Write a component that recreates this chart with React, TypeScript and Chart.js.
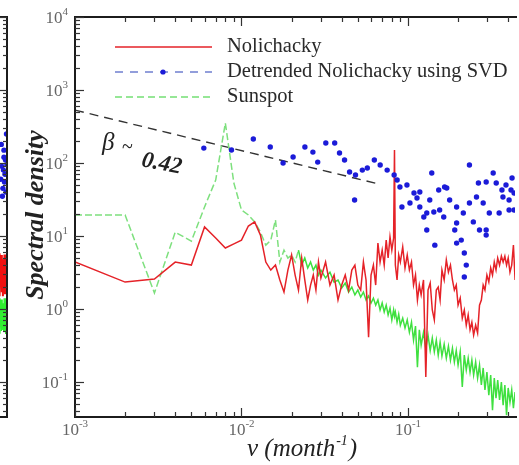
import React, { useEffect, useRef } from 'react';
import { Chart, registerables } from 'chart.js';

Chart.register(...registerables);

const SERIF = '"Liberation Serif", "Times New Roman", serif';

// ---- data: frequency grid (month^-1) shared by the two spectra ----
const nuFreq = [
  0.001, 0.002, 0.003, 0.004, 0.005, 0.006, 0.007, 0.008, 0.009, 0.010,
  0.011, 0.012, 0.013, 0.014, 0.015, 0.016, 0.017, 0.018, 0.019, 0.020,
  0.021, 0.022, 0.023, 0.024, 0.025, 0.026, 0.027, 0.028, 0.029, 0.030,
  0.032, 0.034, 0.036, 0.038, 0.040, 0.042, 0.044, 0.046, 0.048, 0.050,
  0.052, 0.054, 0.056, 0.058, 0.060, 0.062, 0.064, 0.066, 0.068, 0.070,
  0.072, 0.074, 0.076, 0.078, 0.080, 0.082,
  0.083, 0.084,
  0.086, 0.088, 0.090,
  0.093, 0.096, 0.099, 0.102, 0.105, 0.108, 0.111, 0.114, 0.117, 0.120,
  0.124, 0.128, 0.132, 0.136, 0.140, 0.144, 0.148, 0.152, 0.156, 0.160,
  0.165, 0.170, 0.175, 0.180, 0.185, 0.190, 0.195, 0.200,
  0.206, 0.212, 0.218, 0.224, 0.230, 0.236, 0.242, 0.248,
  0.255, 0.262, 0.269, 0.276, 0.283, 0.290,
  0.298, 0.306, 0.314, 0.322, 0.330, 0.338, 0.346,
  0.355, 0.364, 0.373, 0.382, 0.391, 0.400,
  0.410, 0.420, 0.430, 0.440, 0.450,
];

const nolichackyValues = [
  4.4, 2.34, 2.58, 4.4, 4.0, 13.3, 9.4, 6.85, 7.8, 8.8,
  13.7, 15.6, 10.3, 4.4, 3.42, 4.0, 2.5, 1.71, 3.42, 5.5,
  2.92, 1.82, 5.0, 2.5, 1.33, 2.13, 2.92, 1.82, 4.4, 2.66,
  4.4, 2.13, 2.92, 1.33, 2.13, 2.92, 1.82, 3.42, 4.0, 2.13,
  1.82, 4.4, 2.5, 0.41, 2.92, 4.0, 2.13, 8.0, 4.4, 6.4,
  4.0, 8.8, 5.0, 9.7, 6.4, 9.4,
  151, 4.0,
  2.5, 5.5, 4.4,
  7.1, 3.65, 5.5, 3.42, 4.4, 2.13, 2.92, 1.33, 2.13, 1.56,
  2.5, 0.117, 1.82, 2.27, 0.97, 0.71, 1.82, 2.0, 1.33, 3.42,
  2.5, 4.7, 3.2, 4.0, 2.5, 1.82, 2.13, 1.13,
  1.41, 0.75, 0.97, 0.60, 0.83, 0.52, 0.66, 0.44,
  0.60, 0.47, 1.13, 1.33, 2.13, 1.82,
  2.92, 2.34, 3.65, 2.92, 4.4, 3.42, 5.0,
  4.0, 5.3, 4.4, 5.3, 4.0, 5.0,
  3.2, 4.0, 7.5, 2.5, 3.42,
];

const sunspotValues = [
  19.4, 19.4, 1.66, 11.3, 8.5, 25, 58.5, 353, 53.2, 22.7,
  19.4, 15.6, 11.3, 7.5, 8.8, 16.6, 4.4, 6.4, 5.0, 5.5,
  4.4, 6.4, 4.0, 5.0, 3.65, 4.4, 3.42, 4.0, 2.92, 3.42,
  2.66, 3.2, 2.34, 2.5, 1.94, 2.27, 1.71, 2.0, 1.56, 1.82,
  1.46, 1.71, 1.33, 1.51, 1.21, 1.41, 1.13, 1.33, 0.97, 1.21,
  0.91, 1.13, 0.83, 1.03, 0.71, 0.97,
  0.80, 0.91,
  0.66, 0.85, 0.60,
  0.75, 0.55, 0.71, 0.48, 0.66, 0.376, 0.585, 0.160, 0.52, 0.32,
  0.48, 0.29, 0.44, 0.27, 0.40, 0.26, 0.376, 0.234, 0.353, 0.227,
  0.33, 0.213, 0.31, 0.20, 0.29, 0.188, 0.27, 0.171,
  0.26, 0.0855, 0.234, 0.146, 0.213, 0.137, 0.20, 0.125,
  0.188, 0.1135, 0.171, 0.091, 0.156, 0.078,
  0.137, 0.066, 0.125, 0.041, 0.1135, 0.060, 0.106,
  0.057, 0.10, 0.048, 0.091, 0.035, 0.083,
  0.053, 0.078, 0.044, 0.073, 0.057,
];

// detrended Nolichacky (SVD) – scatter points
const svdFreq = [
  0.00594, 0.00871, 0.01178, 0.01489, 0.01778, 0.02042, 0.02404, 0.02685, 0.0287, 0.0321,
  0.0363, 0.0388, 0.0416, 0.0446, 0.0484, 0.0532, 0.0570, 0.0478, 0.0628, 0.0681,
  0.0750, 0.0826, 0.0895, 0.0986, 0.1087, 0.1178, 0.139, 0.0920, 0.1028, 0.1178,
  0.1352, 0.153, 0.166, 0.1297, 0.143, 0.155, 0.178, 0.196, 0.215, 0.234,
  0.234, 0.265, 0.295, 0.325, 0.339, 0.372, 0.405, 0.434, 0.258, 0.283,
  0.308, 0.1297, 0.196, 0.247, 0.295, 0.1245, 0.145, 0.196, 0.209, 0.218,
  0.224, 0.218, 0.164, 0.171, 0.191, 0.269, 0.295, 0.353, 0.405, 0.388,
  0.416, 0.434, 0.367, 0.422, 0.0861, 0.1133,
];
const svdValues = [
  160, 151, 213, 166, 100, 121, 166, 141, 103, 188,
  188, 137, 110, 75.3, 68.5, 80, 85.5, 31.1, 110, 94,
  80, 68.5, 46.9, 50, 38.8, 40.1, 73, 25.0, 28.3, 25.0,
  31.1, 42.7, 46.9, 20.7, 21.3, 22.7, 31.1, 25.0, 20.7, 28.3,
  94, 53.2, 55, 73, 53.2, 34.2, 31.1, 38.8, 34.2, 28.3,
  20.7, 12.1, 15.1, 15.6, 12.1, 18.2, 7.5, 8.0, 8.8, 5.85,
  4.0, 2.74, 18.2, 45.5, 12.1, 12.1, 10.3, 20.7, 22.7, 50,
  42.7, 22.7, 42.7, 62.3, 58.5, 33.2,
];

// fitted power-law guide (beta ~ 0.42)
const betaFreq = [0.001, 0.0637];
const betaValues = [530, 53];

// neighbouring panel (cut off on the left)
const leftFreq = [0.41, 0.415, 0.42, 0.425, 0.43, 0.435, 0.44, 0.445, 0.45, 0.455, 0.46, 0.465, 0.47, 0.475, 0.48, 0.485, 0.49, 0.495, 0.5];
const leftRed = [1.6, 5.2, 1.8, 5.8, 1.5, 4.6, 2.2, 5.5, 1.7, 4.8, 1.5, 4.2, 2.0, 5.6, 1.6, 3.8, 2.4, 5.0, 1.8];
const leftGreen = [0.5, 1.3, 0.55, 1.4, 0.46, 1.1, 0.6, 1.35, 0.5, 1.0, 0.65, 1.2, 0.5, 1.4, 0.55, 1.05, 0.47, 1.25, 0.6];
const leftBlueFreq = [0.44, 0.45, 0.46, 0.47, 0.48, 0.49, 0.495, 0.485, 0.475, 0.465, 0.455, 0.445, 0.5, 0.47];
const leftBlueValues = [60, 90, 45, 150, 70, 40, 250, 110, 55, 80, 35, 180, 95, 120];

// ---- text ----
const legendLabels = ['Nolichacky', 'Detrended Nolichacky using SVD', 'Sunspot'];
const xTickExponents = [-3, -2, -1];
const yTickExponents = [4, 3, 2, 1, 0, -1];
const yTitle = 'Spectral density';
const betaText = { symbol: 'β', tilde: '~', value: '0.42' };

const X_MIN = 0.001;
const X_MAX = 0.4395;
const Y_MIN = 0.0332;
const Y_MAX = 10000;

const RED = '#e52228';
const GREEN = '#3fe03f';
const BLUE = '#1b1bd8';

function logTicks(min: number, max: number) {
  const out: { v: number; major: boolean }[] = [];
  for (let e = Math.floor(Math.log10(min)); e <= Math.ceil(Math.log10(max)); e++) {
    for (let m = 1; m <= 9; m++) {
      const v = m * Math.pow(10, e);
      if (v >= min * 0.999 && v <= max * 1.001) out.push({ v, major: m === 1 });
    }
  }
  return out;
}

const mainDecor = {
  id: 'mainDecor',
  afterDraw(chart: any) {
    const { ctx, chartArea: a, scales } = chart;
    const xs = scales.x;
    const ys = scales.y;
    ctx.save();
    // frame
    ctx.strokeStyle = '#1c1c1c';
    ctx.lineWidth = 2;
    ctx.beginPath();
    ctx.moveTo(a.right + 2, a.top);
    ctx.lineTo(a.left, a.top);
    ctx.lineTo(a.left, a.bottom);
    ctx.lineTo(a.right + 2, a.bottom);
    ctx.stroke();
    // ticks (inward)
    ctx.lineWidth = 1.2;
    ctx.strokeStyle = '#333';
    for (const t of logTicks(X_MIN, X_MAX)) {
      const px = Math.round(xs.getPixelForValue(t.v)) + 0.5;
      const len = t.major ? 9 : 5;
      ctx.beginPath();
      ctx.moveTo(px, a.bottom);
      ctx.lineTo(px, a.bottom - len);
      ctx.moveTo(px, a.top);
      ctx.lineTo(px, a.top + len);
      ctx.stroke();
    }
    for (const t of logTicks(Y_MIN, Y_MAX)) {
      const py = Math.round(ys.getPixelForValue(t.v)) + 0.5;
      const len = t.major ? 9 : 5;
      ctx.beginPath();
      ctx.moveTo(a.left, py);
      ctx.lineTo(a.left + len, py);
      ctx.stroke();
    }
    // tick labels
    ctx.fillStyle = '#666';
    ctx.textBaseline = 'alphabetic';
    ctx.textAlign = 'left';
    const big = `17px ${SERIF}`;
    const small = `11px ${SERIF}`;
    for (const e of xTickExponents) {
      const px = xs.getPixelForValue(Math.pow(10, e));
      ctx.font = big;
      const w1 = ctx.measureText('10').width;
      ctx.font = small;
      const w2 = ctx.measureText(String(e)).width;
      const start = px - (w1 + w2) / 2;
      ctx.font = big;
      ctx.fillText('10', start, a.bottom + 18);
      ctx.font = small;
      ctx.fillText(String(e), start + w1, a.bottom + 10);
    }
    for (const e of yTickExponents) {
      const py = ys.getPixelForValue(Math.pow(10, e));
      ctx.font = big;
      const w1 = ctx.measureText('10').width;
      ctx.font = small;
      const w2 = ctx.measureText(String(e)).width;
      const start = 68 - (w1 + w2);
      ctx.font = big;
      ctx.fillText('10', start, py + 6);
      ctx.font = small;
      ctx.fillText(String(e), start + w1, py - 2);
    }
    // y title
    ctx.fillStyle = '#222';
    ctx.save();
    ctx.translate(36, 215);
    ctx.rotate(-Math.PI / 2);
    ctx.font = `italic bold 26px ${SERIF}`;
    ctx.textAlign = 'center';
    ctx.textBaseline = 'middle';
    ctx.fillText(yTitle, 0, 0);
    ctx.restore();
    // x title: ν (month^-1)
    {
      let cx = 247;
      const base = 456;
      ctx.font = `italic 25px ${SERIF}`;
      ctx.fillText('ν', cx, base);
      cx += ctx.measureText('ν').width;
      ctx.fillText(' (month', cx, base);
      cx += ctx.measureText(' (month').width + 1;
      ctx.font = `italic 14px ${SERIF}`;
      ctx.fillText('-1', cx, base - 11);
      cx += ctx.measureText('-1').width + 1;
      ctx.font = `italic 25px ${SERIF}`;
      ctx.fillText(')', cx, base);
    }
    // legend
    const rows = [47, 72, 97];
    ctx.lineWidth = 1.6;
    ctx.strokeStyle = RED;
    ctx.setLineDash([]);
    ctx.beginPath();
    ctx.moveTo(115, rows[0]);
    ctx.lineTo(212, rows[0]);
    ctx.stroke();
    ctx.strokeStyle = '#6f7fd0';
    ctx.setLineDash([8, 7]);
    ctx.beginPath();
    ctx.moveTo(115, rows[1]);
    ctx.lineTo(212, rows[1]);
    ctx.stroke();
    ctx.setLineDash([]);
    ctx.fillStyle = BLUE;
    ctx.beginPath();
    ctx.arc(163, rows[1], 2.6, 0, Math.PI * 2);
    ctx.fill();
    ctx.strokeStyle = '#74e074';
    ctx.setLineDash([7, 4]);
    ctx.beginPath();
    ctx.moveTo(115, rows[2]);
    ctx.lineTo(212, rows[2]);
    ctx.stroke();
    ctx.setLineDash([]);
    ctx.fillStyle = '#2a2a2a';
    ctx.font = `20.5px ${SERIF}`;
    ctx.textBaseline = 'middle';
    legendLabels.forEach((l, i) => ctx.fillText(l, 227, rows[i]));
    // beta annotation
    ctx.fillStyle = '#222';
    ctx.textBaseline = 'alphabetic';
    ctx.font = `italic 25px ${SERIF}`;
    ctx.fillText(betaText.symbol, 102, 150);
    ctx.font = `20px ${SERIF}`;
    ctx.fillText(betaText.tilde, 122, 153);
    ctx.save();
    ctx.translate(142, 160);
    ctx.rotate(0.2);
    ctx.font = `italic bold 23px ${SERIF}`;
    ctx.fillText(betaText.value, 0, 6);
    ctx.restore();
    ctx.restore();
  },
};

const leftDecor = {
  id: 'leftDecor',
  afterDraw(chart: any) {
    const { ctx, chartArea: a, scales } = chart;
    const ys = scales.y;
    ctx.save();
    ctx.strokeStyle = '#1c1c1c';
    ctx.lineWidth = 2;
    ctx.beginPath();
    ctx.moveTo(a.left - 2, a.top);
    ctx.lineTo(a.right, a.top);
    ctx.lineTo(a.right, a.bottom);
    ctx.lineTo(a.left - 2, a.bottom);
    ctx.stroke();
    ctx.lineWidth = 1.2;
    ctx.strokeStyle = '#333';
    for (const t of logTicks(Y_MIN, Y_MAX)) {
      const py = Math.round(ys.getPixelForValue(t.v)) + 0.5;
      const len = t.major ? 8 : 4;
      ctx.beginPath();
      ctx.moveTo(a.right, py);
      ctx.lineTo(a.right - len, py);
      ctx.stroke();
    }
    ctx.restore();
  },
};

const pts = (xs: number[], ys: number[]) => xs.map((x, i) => ({ x, y: ys[i] }));

export default function App() {
  const mainRef = useRef<HTMLCanvasElement>(null);
  const leftRef = useRef<HTMLCanvasElement>(null);

  useEffect(() => {
    const main = new Chart(mainRef.current as HTMLCanvasElement, {
      type: 'scatter',
      data: {
        datasets: [
          {
            label: legendLabels[1],
            data: pts(svdFreq, svdValues),
            showLine: false,
            pointRadius: 2.7,
            pointBackgroundColor: BLUE,
            pointBorderWidth: 0,
            order: 0,
          },
          {
            label: legendLabels[0],
            data: pts(nuFreq, nolichackyValues),
            showLine: true,
            borderColor: RED,
            borderWidth: 1.5,
            pointRadius: 0,
            clip: 0,
            order: 1,
          },
          {
            label: legendLabels[2],
            data: pts(nuFreq, sunspotValues),
            showLine: true,
            borderColor: GREEN,
            borderWidth: 1.5,
            pointRadius: 0,
            clip: 0,
            order: 2,
            segment: {
              borderDash: (c: any) => (c.p0.parsed.x < 0.022 ? [7, 3] : []),
              borderColor: (c: any) => (c.p0.parsed.x < 0.022 ? '#7ee07e' : GREEN),
            },
          },
          {
            label: 'beta',
            data: pts(betaFreq, betaValues),
            showLine: true,
            borderColor: '#333',
            borderWidth: 1.4,
            borderDash: [9, 6],
            pointRadius: 0,
            clip: 0,
            order: 3,
          },
        ] as any,
      },
      options: {
        responsive: false,
        maintainAspectRatio: false,
        animation: false,
        events: [],
        layout: { padding: { top: 17, left: 0, right: 0, bottom: 0 } },
        plugins: { legend: { display: false }, tooltip: { enabled: false } },
        scales: {
          x: {
            type: 'logarithmic',
            min: X_MIN,
            max: X_MAX,
            ticks: { display: false },
            grid: { display: false },
            border: { display: false },
            afterFit: (s: any) => { s.height = 48; },
          },
          y: {
            type: 'logarithmic',
            min: Y_MIN,
            max: Y_MAX,
            ticks: { display: false },
            grid: { display: false },
            border: { display: false },
            afterFit: (s: any) => { s.width = 75; },
          },
        },
      } as any,
      plugins: [mainDecor],
    });

    const left = new Chart(leftRef.current as HTMLCanvasElement, {
      type: 'scatter',
      data: {
        datasets: [
          {
            data: pts(leftBlueFreq, leftBlueValues),
            showLine: false,
            pointRadius: 2.7,
            pointBackgroundColor: BLUE,
            pointBorderWidth: 0,
            order: 0,
          },
          {
            data: pts(leftFreq, leftRed),
            showLine: true,
            borderColor: '#f01010',
            borderWidth: 2,
            pointRadius: 0,
            clip: 0,
            order: 1,
          },
          {
            data: pts(leftFreq, leftGreen),
            showLine: true,
            borderColor: '#30ee30',
            borderWidth: 2,
            pointRadius: 0,
            clip: 0,
            order: 2,
          },
        ] as any,
      },
      options: {
        responsive: false,
        maintainAspectRatio: false,
        animation: false,
        events: [],
        layout: { padding: { top: 17, left: 0, right: 1, bottom: 48 } },
        plugins: { legend: { display: false }, tooltip: { enabled: false } },
        scales: {
          x: { type: 'logarithmic', min: 0.01, max: 0.5, display: false },
          y: { type: 'logarithmic', min: Y_MIN, max: Y_MAX, display: false },
        },
      } as any,
      plugins: [leftDecor],
    });

    return () => {
      main.destroy();
      left.destroy();
    };
  }, []);

  return (
    <div style={{ position: 'fixed', left: 0, top: 0, width: 519, height: 465, overflow: 'hidden', background: '#fff' }}>
      <canvas
        ref={leftRef}
        width={200}
        height={465}
        style={{ position: 'absolute', left: -189, top: 0, width: 200, height: 465 }}
      />
      <canvas
        ref={mainRef}
        width={519}
        height={465}
        style={{ position: 'absolute', left: 0, top: 0, width: 519, height: 465 }}
      />
    </div>
  );
}
